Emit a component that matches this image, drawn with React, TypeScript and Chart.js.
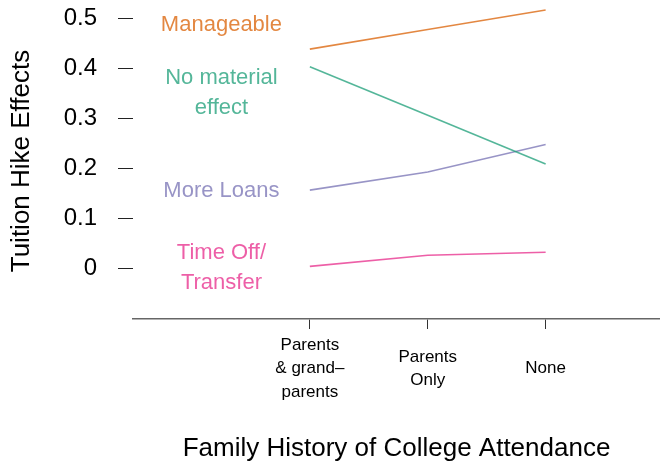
import React, { useEffect, useRef } from "react";
import { Chart, registerables } from "chart.js";

Chart.register(...registerables);

// ---- data ----
const categoryLabels: string[][] = [["Parents", "& grand–", "parents"], ["Parents", "Only"], ["None"]];
const categoryPositions = [1, 2, 3];
const seriesNames = ["Manageable", "No material effect", "More Loans", "Time Off/Transfer"];
const manageable = [0.438, 0.477, 0.516];
const noMaterialEffect = [0.403, 0.306, 0.209];
const moreLoans = [0.157, 0.193, 0.248];
const timeOffTransfer = [0.005, 0.027, 0.033];
const yTickValues = [0, 0.1, 0.2, 0.3, 0.4, 0.5];
const annotationLines: string[][] = [["Manageable"], ["No material", "effect"], ["More Loans"], ["Time Off/", "Transfer"]];
const annotationY = [0.487, 0.351, 0.156, 0.002];
const annotationX = 0.25;

const colors = [
  "rgba(217,95,2,0.75)",
  "rgba(27,158,119,0.75)",
  "rgba(117,112,179,0.75)",
  "rgba(231,41,138,0.75)",
];
const FONT = "'Liberation Sans', Arial, Helvetica, sans-serif";

const annotationPlugin = {
  id: "seriesAnnotations",
  afterDatasetsDraw(chart: any) {
    const { ctx, scales } = chart;
    const xs = scales.x;
    const ys = scales.y;
    ctx.save();
    ctx.font = `22px ${FONT}`;
    ctx.textAlign = "center";
    ctx.textBaseline = "middle";
    const lineGap = 29.5;
    annotationLines.forEach((lines, i) => {
      const cx = xs.getPixelForValue(annotationX);
      const cy = ys.getPixelForValue(annotationY[i]);
      ctx.fillStyle = colors[i];
      const start = cy - ((lines.length - 1) * lineGap) / 2;
      lines.forEach((t, j) => ctx.fillText(t, cx, start + j * lineGap));
    });
    ctx.restore();
  },
};

export default function App() {
  const ref = useRef<HTMLCanvasElement | null>(null);
  useEffect(() => {
    if (!ref.current) return;
    const seriesData = [manageable, noMaterialEffect, moreLoans, timeOffTransfer];
    const chart = new Chart(ref.current, {
      type: "line",
      data: {
        datasets: seriesData.map((vals, i) => ({
          label: seriesNames[i],
          data: vals.map((v, k) => ({ x: categoryPositions[k], y: v })),
          borderColor: colors[i],
          backgroundColor: colors[i],
          borderWidth: 1.6,
          pointRadius: 0,
          fill: false,
          tension: 0,
        })),
      },
      options: {
        responsive: false,
        animation: false,
        layout: { padding: { top: 3, left: 0, right: 0, bottom: 0 } },
        plugins: { legend: { display: false }, tooltip: { enabled: false } },
        scales: {
          x: {
            type: "linear",
            min: -0.5,
            max: 3.97,
            afterBuildTicks: (s: any) => {
              s.ticks = categoryPositions.map((v) => ({ value: v }));
            },
            afterFit: (s: any) => {
              s.height = 143;
              s.paddingLeft = 0;
              s.paddingRight = 0;
            },
            border: { display: true, color: "#666", width: 1.5 },
            grid: { display: true, drawOnChartArea: false, drawTicks: true, tickLength: 10, color: "#333" },
            ticks: {
              autoSkip: false,
              maxRotation: 0,
              padding: 16,
              crossAlign: "center",
              color: "#000",
              font: { family: FONT, size: 17, lineHeight: 1.4 },
              callback: (v: any) => categoryLabels[categoryPositions.indexOf(Number(v))] ?? "",
            },
            title: {
              display: true,
              text: "Family History of College Attendance",
              color: "#000",
              font: { family: FONT, size: 26, lineHeight: 1 },
              padding: { top: 0, bottom: 0 },
            },
          },
          y: {
            type: "linear",
            min: -0.1,
            max: 0.53,
            afterBuildTicks: (s: any) => {
              s.ticks = yTickValues.map((v) => ({ value: v }));
            },
            afterFit: (s: any) => {
              s.width = 133;
              s.paddingTop = 0;
              s.paddingBottom = 0;
            },
            border: { display: false },
            grid: { display: true, drawOnChartArea: false, drawTicks: true, tickLength: 15, color: "#222" },
            ticks: {
              padding: 21,
              color: "#000",
              font: { family: FONT, size: 24 },
              callback: (v: any) => (Number(v) === 0 ? "0" : Number(v).toFixed(1)),
            },
            title: {
              display: true,
              text: "Tuition Hike Effects",
              color: "#000",
              font: { family: FONT, size: 26, lineHeight: 1 },
              padding: { top: 9, bottom: 0 },
            },
          },
        },
      },
      plugins: [annotationPlugin],
    });
    return () => chart.destroy();
  }, []);
  return (
    <div style={{ position: "fixed", left: 0, top: 0, width: 660, height: 462, background: "#fff" }}>
      <canvas ref={ref} width={660} height={462} style={{ display: "block", width: 660, height: 462 }} />
    </div>
  );
}
